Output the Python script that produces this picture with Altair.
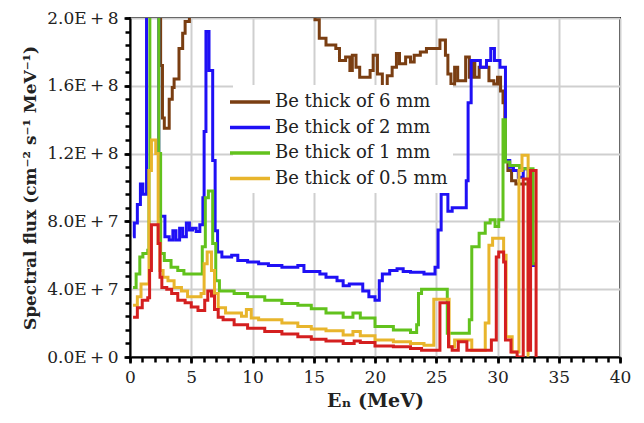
import altair as alt
import pandas as pd

# ---- data (flux in units of 1e7 cm^-2 s^-1 MeV^-1; step-after bins) ----
red_E = [0.25,0.6,1.0,1.45,1.6,1.75,2.3,2.45,2.6,3.0,3.4,3.9,4.5,5.0,5.55,6.1,6.35,6.65,6.9,7.2,7.6,8.5,9.6,11.0,12.4,13.7,14.8,16.0,17.4,18.3,18.8,20.0,21.5,22.9,23.8,25.3,26.0,26.3,26.8,27.5,29.5,29.9,30.1,30.5,30.65,31.1,31.6,32.1,32.5,32.7,33.15,33.2]
red_F = [2.35,2.9,3.35,3.5,5.1,7.8,6.7,4.7,4.1,4.0,3.75,3.35,3.2,2.95,2.75,3.35,3.9,3.6,2.8,2.35,2.2,1.9,1.7,1.5,1.35,1.2,1.05,0.95,0.8,0.95,0.85,0.65,0.6,0.5,0.4,3.2,0.6,0.4,0.9,0.4,1.0,5.9,6.2,5.6,1.0,0.3,0.0,10.5,0.4,11.0,0.0,0.0]

yel_E = [0.25,0.6,0.9,1.55,1.75,2.1,2.3,2.45,2.7,3.1,3.6,4.2,4.7,5.8,6.05,6.3,6.65,6.9,7.2,7.8,9.1,9.5,9.9,10.5,12.4,13.7,14.8,16.0,17.4,18.2,18.8,20.0,21.5,22.9,24.0,24.8,26.05,26.5,27.9,29.0,29.3,29.6,30.5,30.7,31.2,31.75,32.0,32.5,32.6]
yel_F = [3.05,3.55,4.3,11.0,12.8,12.0,6.7,5.1,4.7,4.5,4.1,3.9,3.55,3.75,5.5,6.2,5.1,3.75,2.9,2.6,2.4,2.8,2.3,2.2,2.0,1.8,1.65,1.55,1.3,1.5,1.25,1.0,0.9,0.8,0.7,3.4,0.6,1.0,0.4,2.0,6.6,7.0,6.0,1.2,0.3,11.0,11.9,0.1,0.1]

grn_E = [0.25,0.5,0.8,1.05,1.45,1.55,1.62,2.35,2.5,2.8,3.35,3.9,4.4,5.9,6.15,6.4,6.75,7.0,7.3,8.5,9.6,11.0,12.4,13.7,14.8,16.0,17.4,18.2,18.8,20.0,21.5,22.9,23.4,23.55,23.8,25.9,27.7,27.9,28.5,29.0,29.4,29.8,30.1,30.45,30.65,31.0,31.8,32.9,33.2]
grn_F = [4.1,4.9,5.9,6.1,6.3,11.0,24.0,12.0,6.1,5.7,5.3,5.1,4.9,6.5,9.4,9.8,6.7,4.5,3.9,3.75,3.55,3.35,3.15,3.05,2.85,2.6,2.35,2.6,2.3,1.8,1.6,1.45,1.9,3.75,4.0,1.4,2.2,6.5,7.3,7.9,8.1,7.7,8.1,14.0,11.5,11.3,11.1,5.5,5.5]

blu_E = [0.25,0.35,0.6,0.85,1.05,1.35,2.35,2.85,3.2,3.5,3.75,4.05,4.3,4.6,4.85,5.1,5.4,5.7,5.95,6.05,6.2,6.45,6.75,6.95,7.15,7.5,8.3,8.8,9.6,10.5,11.3,12.4,13.7,14.2,15.5,16.0,16.9,17.4,17.9,19.0,19.5,20.0,20.35,20.6,21.2,21.8,22.3,22.9,24.0,24.9,25.15,25.4,25.75,25.95,26.3,27.45,27.6,27.85,28.6,29.1,29.45,29.75,30.2,30.65,31.0,31.3,31.7,32.1,32.5,32.85,33.2]
blu_F = [7.1,7.9,9.0,10.2,9.6,24.0,8.3,7.1,6.9,7.45,6.9,7.6,7.1,7.9,7.5,7.6,7.4,7.8,9.4,13.3,19.2,16.9,11.6,7.45,6.2,5.9,6.0,5.7,5.6,5.5,5.4,5.3,5.4,5.05,4.9,4.7,4.5,4.2,4.3,3.9,3.55,3.35,4.5,4.9,5.1,5.2,5.05,5.0,4.9,5.3,7.5,9.6,10.0,8.6,8.8,10.4,15.0,17.5,17.1,17.5,18.2,17.5,17.1,11.6,11.2,11.0,10.6,11.1,10.6,5.4,5.4]

brn_E = [0.25,2.5,2.65,2.8,3.2,3.45,3.6,4.0,4.3,4.5,4.85,15.1,15.45,16.0,16.8,17.1,17.6,17.95,18.15,18.45,18.75,19.6,19.85,20.2,20.6,21.0,21.4,21.75,22.0,22.5,22.9,23.2,23.7,24.2,25.3,25.75,25.95,26.2,26.5,26.75,27.4,27.7,28.0,28.15,28.5,29.3,29.7,30.0,30.25,30.45,30.6,30.85,31.15,31.5,32.8,33.2]
brn_F = [24.0,17.2,14.1,13.5,15.2,15.9,16.4,18.2,19.1,19.8,24.0,19.9,18.8,18.4,18.2,17.5,17.7,16.9,17.8,17.1,16.5,16.9,17.8,16.7,15.8,16.6,17.1,17.9,17.3,17.7,17.4,17.8,18.0,18.2,18.7,17.8,16.7,16.1,17.1,16.3,17.7,16.5,17.5,16.5,17.1,16.3,16.1,16.5,15.7,15.0,11.6,11.0,10.4,10.2,5.4,5.4]

legend_names = ["Be thick of 6 mm", "Be thick of 2 mm", "Be thick of 1 mm", "Be thick of 0.5 mm"]
legend_colors = ["#7a3e12", "#1f10f5", "#62c21d", "#e8b52c"]
red_color = "#d41f1f"

x_major = [0, 5, 10, 15, 20, 25, 30, 35, 40]
x_minor = list(range(0, 41))
y_major = [0, 4e7, 8e7, 1.2e8, 1.6e8, 2e8]
y_minor = [i * 8e6 for i in range(26)]

rows = []
for name, es, fs in zip(legend_names, [brn_E, blu_E, grn_E, yel_E], [brn_F, blu_F, grn_F, yel_F]):
    for i, (e, f) in enumerate(zip(es, fs)):
        rows.append({"series": name, "E": e, "F": f * 1e7, "i": i})
df = pd.DataFrame(rows)
df_red = pd.DataFrame({"E": red_E, "F": [f * 1e7 for f in red_F], "i": list(range(len(red_E)))})

FONT = "DejaVu Serif"
THIN = "\u2009"

xscale = alt.Scale(domain=[0, 40], nice=False, zero=False)
yscale = alt.Scale(domain=[0, 2e8], nice=False)

main = alt.Chart(df).mark_line(interpolate="step-after", strokeWidth=3, clip=True).encode(
    x=alt.X("E:Q", scale=xscale,
            axis=alt.Axis(values=x_major, title="Eₙ   (MeV)", grid=True, orient="bottom",
                          labelFlush=False,
                          labelFont=FONT, labelFontSize=17, labelColor="#222",
                          titleFont=FONT, titleFontSize=19, titleFontWeight="bold",
                          titleColor="#222", titlePadding=6, labelPadding=6,
                          tickSize=6, tickWidth=2.5, tickColor="black",
                          domainColor="black", domainWidth=2,
                          gridColor="#cfcfcf", gridWidth=2)),
    y=alt.Y("F:Q", scale=yscale,
            axis=alt.Axis(values=y_major, title="Spectral flux  (cm⁻² s⁻¹ MeV⁻¹)", grid=True, orient="left",
                          labelFlush=False,
                          labelExpr="replace(replace(format(datum.value, '.1e'), 'e', 'E'), '+', '" + THIN + "+" + THIN + "')",
                          labelFont=FONT, labelFontSize=17, labelColor="#222",
                          titleFont=FONT, titleFontSize=17, titleFontWeight="bold",
                          titleColor="#222", titlePadding=7, labelPadding=6,
                          tickSize=6, tickWidth=2.5, tickColor="black",
                          domainColor="black", domainWidth=2,
                          gridColor="#cfcfcf", gridWidth=2)),
    color=alt.Color("series:N", scale=alt.Scale(domain=legend_names, range=legend_colors),
                    legend=alt.Legend(title=None, orient="none", legendX=103, legendY=67,
                                      fillColor="white", padding=5,
                                      symbolType="M-2,0L2,0", symbolSize=400,
                                      symbolStrokeWidth=3.5,
                                      labelFont=FONT, labelFontSize=18, labelColor="#222",
                                      labelLimit=400, rowPadding=4.5, labelOffset=13)),
    order="i:Q",
)

red = alt.Chart(df_red).mark_line(interpolate="step-after", strokeWidth=3, clip=True, color=red_color).encode(
    x=alt.X("E:Q", scale=xscale,
            axis=alt.Axis(values=x_minor, title=None, labels=False, grid=False, domain=False,
                          orient="bottom", tickSize=5, tickWidth=2.5, tickColor="black")),
    y=alt.Y("F:Q", scale=yscale,
            axis=alt.Axis(values=y_minor, title=None, labels=False, grid=False, domain=False,
                          orient="left", tickSize=5, tickWidth=2.5, tickColor="black")),
    order="i:Q",
)

chart = alt.layer(main, red).resolve_axis(x="independent", y="independent").properties(
    width=490, height=339,
    autosize=alt.AutoSizeParams(type="none"),
    padding={"left": 122, "top": 10, "right": 16, "bottom": 58},
).configure_view(stroke="black", strokeWidth=2)

chart.save("out.html", embed_options={"renderer": "svg", "actions": False})
